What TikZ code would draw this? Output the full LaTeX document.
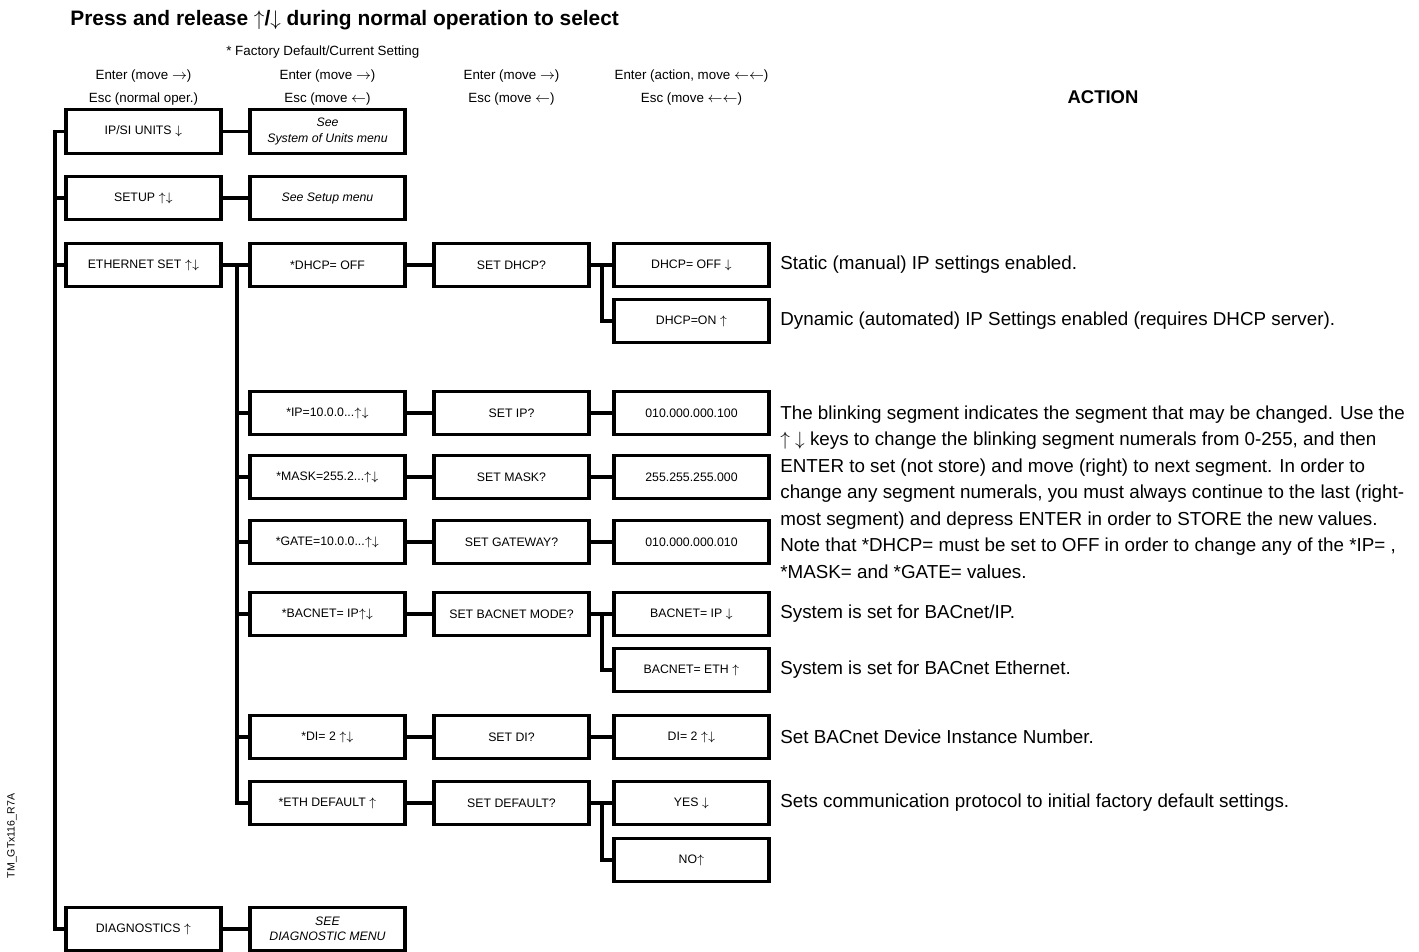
\documentclass[tikz,border=0pt]{standalone}
\usepackage{fontspec}
\setmainfont{Liberation Sans}
\usetikzlibrary{positioning}
\definecolor{MenuInk}{HTML}{000000}
\newcommand\up{$\uparrow$}
\newcommand\dn{$\downarrow$}
\newcommand\lt{$\leftarrow$}
\newcommand\rt{$\rightarrow$}

\begin{document}
\begin{tikzpicture}[x=0.02cm,y=-0.02cm]
    \tikzset{
      menu/.style={draw=MenuInk, line width=1.9pt, minimum width=3.1cm,
        minimum height=0.87cm, inner sep=1pt, align=center,
        font=\fontsize{7}{8.6}\selectfont},
      note/.style={menu, font=\fontsize{7}{8.6}\selectfont\itshape},
      wire/.style={draw=MenuInk, line width=1.9pt},
      head/.style={anchor=center, inner sep=0pt, font=\fontsize{7.6}{9}\selectfont},
      act/.style={anchor=west, inner sep=0pt, align=left,
        font=\fontsize{10.7}{15.1}\selectfont}
    }
    \useasboundingbox (0,0) rectangle (1419,952);
    % headings
    \node[anchor=west, inner sep=0pt, font=\bfseries\fontsize{11.9}{14}\selectfont] (title)
      at (70,20) {Press and release \up/\dn{} during normal operation to select};
    \node[head, anchor=west] (factory) at (226,52) {* Factory Default/Current Setting};
    \node[head] (h1a) at (143.5,76) {Enter (move \rt)};
    \node[head] (h1b) at (143.5,99) {Esc (normal oper.)};
    \node[head] (h2a) at (327.5,76) {Enter (move \rt)};
    \node[head] (h2b) at (327.5,99) {Esc (move \lt)};
    \node[head] (h3a) at (511.5,76) {Enter (move \rt)};
    \node[head] (h3b) at (511.5,99) {Esc (move \lt)};
    \node[head] (h4a) at (691.5,76) {Enter (action, move \lt\lt)};
    \node[head] (h4b) at (691.5,99) {Esc (move \lt\lt)};
    \node[anchor=center, font=\bfseries\fontsize{10.5}{12}\selectfont] (acthead)
      at (1103,97) {ACTION};
    \node[rotate=90, inner sep=0pt, font=\fontsize{6}{7}\selectfont] (tag)
      at (12,836) {TM\_GTx116\_R7A};
    % first column
    \node[menu] (ipsi) at (143.5,131.5) {IP/SI UNITS \dn};
    \node[menu] (setup) at (143.5,198) {SETUP \up\dn};
    \node[menu] (eth) at (143.5,265) {ETHERNET SET \up\dn};
    \node[menu] (diag) at (143.5,929) {DIAGNOSTICS \up};
    \node[note] (seeunits) at (327.5,131.5) {See\\System of Units menu};
    \node[note] (seesetup) at (327.5,198) {See Setup menu};
    \node[note] (seediag) at (327.5,929) {SEE\\DIAGNOSTIC MENU};
    % ethernet items
    \node[menu] (dhcp) at (327.5,265) {*DHCP= OFF};
    \node[menu] (ip) at (327.5,413) {*IP=10.0.0...\up\dn};
    \node[menu] (mask) at (327.5,477) {*MASK=255.2...\up\dn};
    \node[menu] (gate) at (327.5,542) {*GATE=10.0.0...\up\dn};
    \node[menu] (bacnet) at (327.5,614) {*BACNET= IP\up\dn};
    \node[menu] (di) at (327.5,737) {*DI= 2 \up\dn};
    \node[menu] (ethdef) at (327.5,803) {*ETH DEFAULT \up};
    \node[menu] (setdhcp) at (511.5,265) {SET DHCP?};
    \node[menu] (setip) at (511.5,413) {SET IP?};
    \node[menu] (setmask) at (511.5,477) {SET MASK?};
    \node[menu] (setgate) at (511.5,542) {SET GATEWAY?};
    \node[menu] (setbacnet) at (511.5,614) {SET BACNET MODE?};
    \node[menu] (setdi) at (511.5,737) {SET DI?};
    \node[menu] (setdef) at (511.5,803) {SET DEFAULT?};
    \node[menu] (dhcpoff) at (691.5,265) {DHCP= OFF \dn};
    \node[menu] (dhcpon) at (691.5,321) {DHCP=ON \up};
    \node[menu] (ipval) at (691.5,413) {010.000.000.100};
    \node[menu] (maskval) at (691.5,477) {255.255.255.000};
    \node[menu] (gateval) at (691.5,542) {010.000.000.010};
    \node[menu] (bacip) at (691.5,614) {BACNET= IP \dn};
    \node[menu] (baceth) at (691.5,670) {BACNET= ETH \up};
    \node[menu] (dival) at (691.5,737) {DI= 2 \up\dn};
    \node[menu] (yes) at (691.5,803) {YES \dn};
    \node[menu] (no) at (691.5,860) {NO\up};
    % buses
    \coordinate (mainbus) at (55,0);
    \coordinate (ethbus) at (237,0);
    \coordinate (pickbus) at (602,0);
    \draw[wire] (ipsi.west) -- (ipsi.west -| mainbus) |- (diag.west);
    \foreach \n in {setup,eth}
      \draw[wire] (\n.west) -- (\n.west -| mainbus);
    \draw[wire] (eth.east -| ethbus) |- (ethdef.west);
    \foreach \n in {ip,mask,gate,bacnet,di}
      \draw[wire] (\n.west) -- (\n.west -| ethbus);
    \foreach \a/\b in {setdhcp/dhcpon,setbacnet/baceth,setdef/no}
      \draw[wire] (\a.east -| pickbus) |- (\b.west);
    \foreach \a/\b in {ipsi/seeunits,setup/seesetup,diag/seediag,eth/dhcp,
      dhcp/setdhcp,ip/setip,mask/setmask,gate/setgate,bacnet/setbacnet,di/setdi,
      ethdef/setdef,setdhcp/dhcpoff,setip/ipval,setmask/maskval,setgate/gateval,
      setbacnet/bacip,setdi/dival,setdef/yes}
      \draw[wire] (\a) -- (\b);
    % action texts
    \node[act] (a1) at (780,265) {Static (manual) IP settings enabled.};
    \node[act] (a2) at (780,321) {Dynamic (automated) IP Settings enabled (requires DHCP server).};
    \node[act] (a3) at (780,492) {The blinking segment indicates the segment that may be changed. Use the\\
      \up{} \dn{} keys to change the blinking segment numerals from 0-255, and then\\
      ENTER to set (not store) and move (right) to next segment. In order to\\
      change any segment numerals, you must always continue to the last (right-\\
      most segment) and depress ENTER in order to STORE the new values.\\
      Note that *DHCP= must be set to OFF in order to change any of the *IP= ,\\
      *MASK= and *GATE= values.};
    \node[act] (a4) at (780,614) {System is set for BACnet/IP.};
    \node[act] (a5) at (780,670) {System is set for BACnet Ethernet.};
    \node[act] (a6) at (780,737) {Set BACnet Device Instance Number.};
    \node[act] (a7) at (780,803) {Sets communication protocol to initial factory default settings.};
  \end{tikzpicture}
\end{document}
